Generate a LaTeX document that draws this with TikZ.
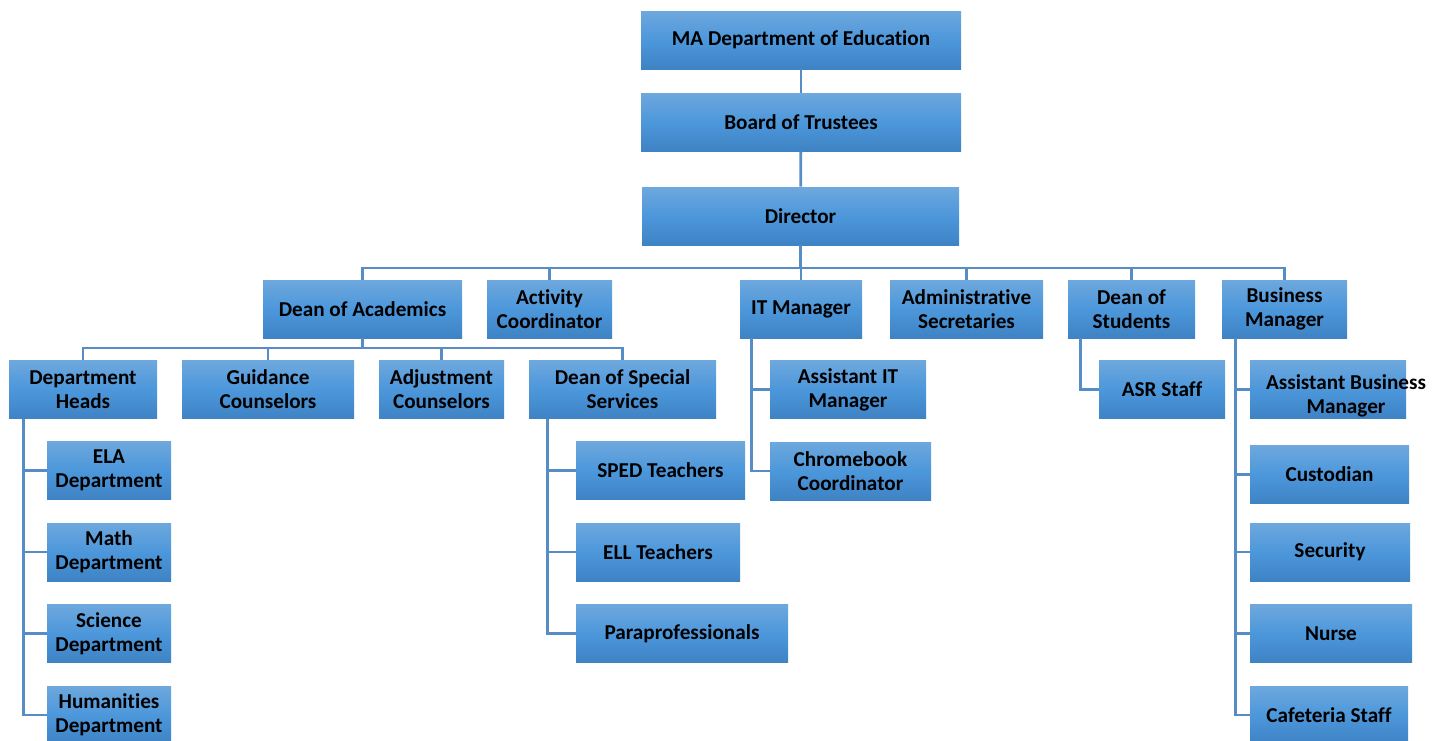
\documentclass[tikz,border=0pt]{standalone}
\usepackage{fontspec}
\setmainfont{Carlito}[Ligatures=NoCommon]
\usetikzlibrary{calc,positioning}
\definecolor{boxtop}{RGB}{110,168,221}
\definecolor{boxmid}{RGB}{76,151,219}
\definecolor{boxbot}{RGB}{62,131,196}
\definecolor{linkc}{RGB}{86,141,199}
\tikzset{
  box/.style={top color=boxtop,bottom color=boxbot,middle color=boxmid,
    minimum height=29pt,inner sep=0pt,align=center,
    font=\fontsize{10.6}{11.9}\selectfont\bfseries},
  wd/.style={minimum width=#1*0.5pt},
  lbl/.style={align=center,inner sep=0pt,font=\fontsize{10.6}{11.9}\selectfont\bfseries},
  link/.style={linkc,line width=1.4pt}
}
\begin{document}
\begin{tikzpicture}[x=0.5pt,y=-0.5pt]
\useasboundingbox (0,0) rectangle (1444,740);
% top of the chain
\node[box,wd=320] (ma)  at (801,40)  {MA Department of Education};
\node[box,wd=320] (bot) at (801,122) {Board of Trustees};
\node[box,wd=317] (dir) at (800.5,216) {Director};
% second level
\node[box,wd=199] (doa) at (362.5,309)  {Dean of Academics};
\node[box,wd=125] (act) at (549.5,309)  {Activity\\Coordinator};
\node[box,wd=122] (itm) at (801,309)    {IT Manager};
\node[box,wd=153] (adm) at (966.5,309)  {Administrative\\Secretaries};
\node[box,wd=127] (dos) at (1131.5,309) {Dean of\\Students};
\node[box,wd=125] (bm)  at (1284.5,309) {Business\\Manager};
% under the dean of academics
\node[box,wd=148] (dh)  at (83,389.5)    {Department\\Heads};
\node[box,wd=172] (gc)  at (268,389.5)   {Guidance\\Counselors};
\node[box,wd=125] (ac)  at (441.5,389.5) {Adjustment\\Counselors};
\node[box,wd=187] (dss) at (622.5,389.5) {Dean of Special\\Services};
\node[box,wd=124] (ela)  at (109,470.5) {ELA\\Department};
\node[box,wd=124] (math) at (109,552)   {Math\\Department};
\node[box,wd=124] (sci)  at (109,633.5) {Science\\Department};
\node[box,wd=124] (hum)  at (109,715)   {Humanities\\Department};
\node[box,wd=169] (sped) at (660.5,470.5) {SPED Teachers};
\node[box,wd=164] (ell)  at (658,552)     {ELL Teachers};
\node[box,wd=212] (para) at (682,633.5)   {Paraprofessionals};
% IT, students and business
\node[box,wd=156] (ait) at (848,389.5)   {Assistant IT\\Manager};
\node[box,wd=161] (cc)  at (850.5,471)   {Chromebook\\Coordinator};
\node[box,wd=126] (asr) at (1162,389.5)  {ASR Staff};
\node[box,wd=156] (abm) at (1328,389.5)  {};
\node[lbl] (abmt) at (1346,396) {Assistant Business\\Manager};
\node[box,wd=159] (cus) at (1329.5,474.5) {Custodian};
\node[box,wd=160] (sec) at (1330,552)     {Security};
\node[box,wd=162] (nur) at (1331,633.5)   {Nurse};
\node[box,wd=158] (caf) at (1329,715)     {Cafeteria Staff};

% connectors
\coordinate (bus1) at (800,268);
\coordinate (bus2) at (362,348);
\draw[link] (ma) -- (bot);
\draw[link] (bot) -- (dir);
\foreach \n in {doa,act,itm,adm,dos,bm}
  \draw[link] (dir.south) -- (dir.south |- bus1) -| (\n.north);
\foreach \n in {dh,gc,ac,dss}
  \draw[link] (doa.south) -- (doa.south |- bus2) -| (\n.north);
\foreach \n in {ela,math,sci,hum}
  \draw[link] ([xshift=7.5pt]dh.south west) |- (\n.west);
\foreach \n in {sped,ell,para}
  \draw[link] ([xshift=9.5pt]dss.south west) |- (\n.west);
\foreach \n in {ait,cc}
  \draw[link] ([xshift=6pt]itm.south west) |- (\n.west);
\draw[link] ([xshift=6.5pt]dos.south west) |- (asr.west);
\foreach \n in {abm,cus,sec,nur,caf}
  \draw[link] ([xshift=7pt]bm.south west) |- (\n.west);
\end{tikzpicture}
\end{document}
